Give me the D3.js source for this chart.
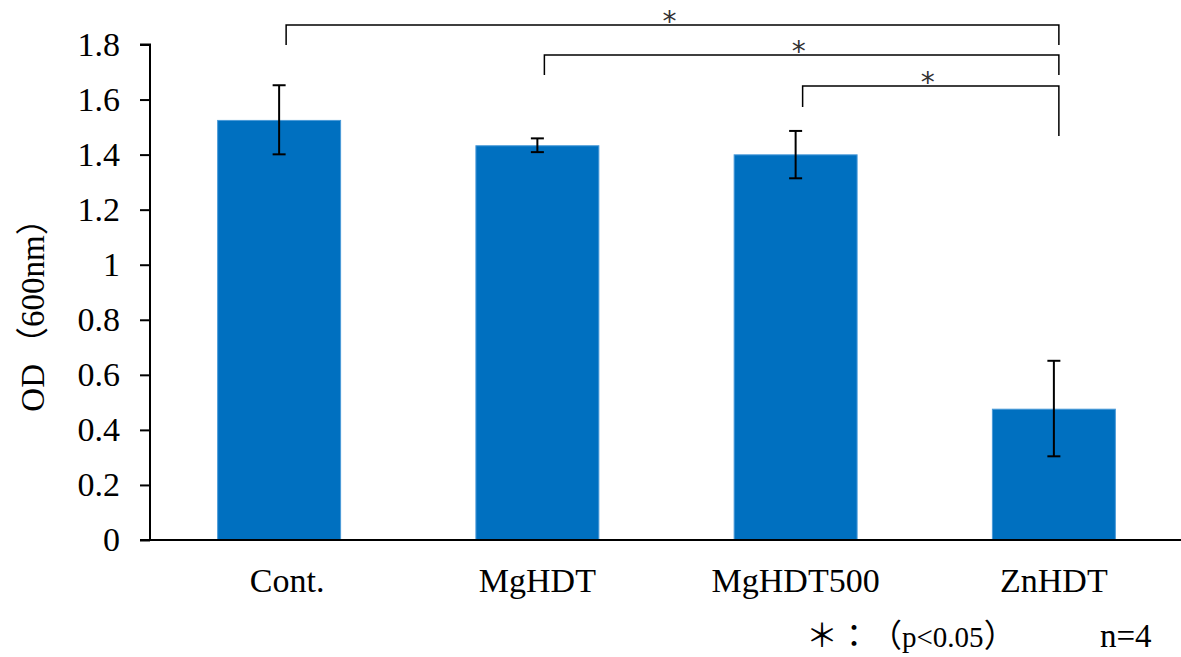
<!DOCTYPE html>
<html>
<head>
<meta charset="utf-8">
<script src="https://cdn.jsdelivr.net/npm/d3@7"></script>
<style>
  body { margin: 0; background: #fff; }
  text { font-family: "Liberation Serif", "Noto Sans CJK JP", serif; fill: #000; }
</style>
</head>
<body>
<div id="chart"></div>
<script>
const categories = ['Cont.', 'MgHDT', 'MgHDT500', 'ZnHDT'];
const means = [1.526, 1.434, 1.401, 0.477];
const errLow = [1.401, 1.409, 1.314, 0.304];
const errHigh = [1.652, 1.459, 1.486, 0.651];
const yTicks = [0, 0.2, 0.4, 0.6, 0.8, 1, 1.2, 1.4, 1.6, 1.8];
// significance brackets: [from, to, level]
const brackets = [
  ['Cont.', 'ZnHDT', 0],
  ['MgHDT', 'ZnHDT', 1],
  ['MgHDT500', 'ZnHDT', 2]
];

const width = 1181, height = 657;
const svg = d3.select('#chart').append('svg')
  .attr('width', width)
  .attr('height', height);

const x = d3.scaleBand()
  .domain(categories)
  .range([150, 1183])
  .paddingInner(0.52)
  .paddingOuter(0.26);

const y = d3.scaleLinear()
  .domain([0, 1.8])
  .range([540, 44.5]);

// bars (thin light edge like the original)
svg.selectAll('rect.bar')
  .data(categories)
  .join('rect')
  .attr('class', 'bar')
  .attr('x', d => x(d) + 0.5)
  .attr('y', (d, i) => y(means[i]) + 0.5)
  .attr('width', x.bandwidth() - 1)
  .attr('height', (d, i) => y(0) - y(means[i]) - 0.5)
  .attr('fill', '#0070c0')
  .attr('stroke', '#4a9ad8')
  .attr('stroke-width', 1);

// error bars
const eb = svg.append('g').attr('stroke', '#000').attr('stroke-width', 2);
categories.forEach((c, i) => {
  const cx = x(c) + x.bandwidth() / 2;
  eb.append('line').attr('x1', cx).attr('x2', cx).attr('y1', y(errLow[i])).attr('y2', y(errHigh[i]));
  eb.append('line').attr('x1', cx - 6.5).attr('x2', cx + 6.5).attr('y1', y(errLow[i])).attr('y2', y(errLow[i]));
  eb.append('line').attr('x1', cx - 6.5).attr('x2', cx + 6.5).attr('y1', y(errHigh[i])).attr('y2', y(errHigh[i]));
});

// y axis
const yAxis = svg.append('g')
  .attr('transform', 'translate(150,0)')
  .call(d3.axisLeft(y).tickValues(yTicks).tickSize(10).tickPadding(20).tickFormat(d3.format('')));
yAxis.select('.domain').attr('d', `M-10,${y(1.8)}H0V${y(0)}`).attr('stroke-width', 2);
yAxis.selectAll('.tick line').attr('stroke-width', 2);
yAxis.selectAll('.tick text').attr('font-size', 34);

// x axis
const xAxis = svg.append('g')
  .attr('transform', `translate(0,${y(0)})`)
  .call(d3.axisBottom(x).tickSize(0).tickPadding(28));
xAxis.select('.domain').attr('d', `M140,0H1181`).attr('stroke-width', 2);
xAxis.selectAll('.tick text').attr('font-size', 34)
  .attr('dx', d => d === 'Cont.' ? 8 : 0);

// y label
const yl = svg.append('text')
  .attr('transform', 'translate(44,307) rotate(-90)')
  .attr('text-anchor', 'middle')
  .attr('font-size', 33);
yl.append('tspan').text('OD');
yl.append('tspan').attr('dx', 4).text('（600nm）');

// significance brackets
const levelY = [25, 55, 86];
const dropL = [45, 75, 107];
const dropR = [45, 75, 136];
const bg = svg.append('g');
brackets.forEach(([a, b, lv]) => {
  const x1 = x(a) + x.bandwidth() / 2 + 7;
  const x2 = x(b) + x.bandwidth() / 2 + 5;
  bg.append('path')
    .attr('d', `M${x1},${dropL[lv]}V${levelY[lv]}H${x2}V${dropR[lv]}`)
    .attr('fill', 'none')
    .attr('stroke', '#000')
    .attr('stroke-width', 1.5);
  bg.append('text')
    .attr('x', (x1 + x2) / 2 - 3)
    .attr('y', levelY[lv] + 6)
    .attr('text-anchor', 'middle')
    .attr('font-size', 28)
    .style('font-family', 'DejaVu Sans')
    .style('fill', '#333')
    .text('*');
});

// footnotes
svg.append('text').attr('x', 806).attr('y', 647).attr('font-size', 32).text('＊');
svg.append('text').attr('x', 838).attr('y', 647).attr('font-size', 32).text('：');
const fn = svg.append('text').attr('x', 870).attr('y', 647);
fn.append('tspan').attr('font-size', 32).text('（');
fn.append('tspan').attr('font-size', 29).style('font-family', 'Liberation Serif').text('p<0.05');
fn.append('tspan').attr('font-size', 32).text('）');
svg.append('text')
  .attr('x', 1100).attr('y', 647)
  .attr('font-size', 33)
  .text('n=4');
</script>
</body>
</html>
